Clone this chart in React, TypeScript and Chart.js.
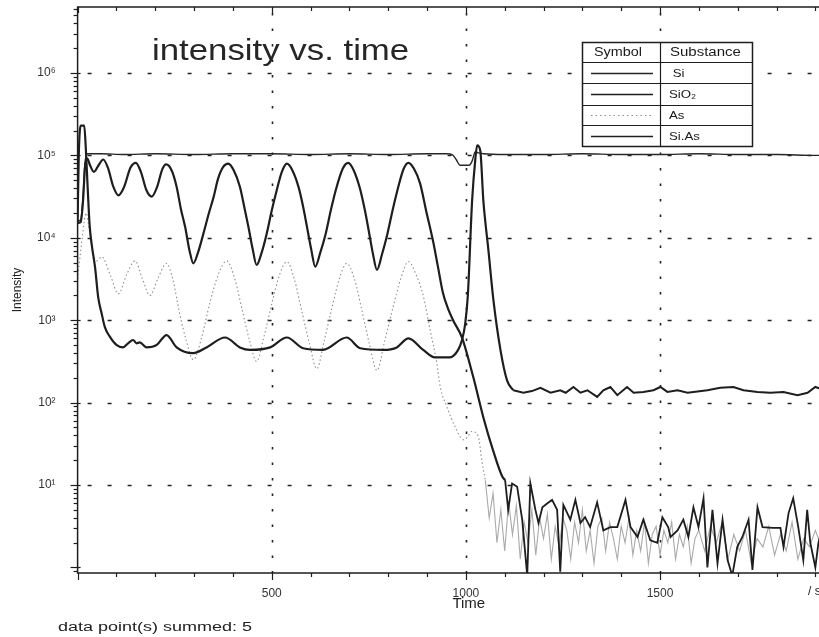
import React, { useEffect, useRef } from 'react';
import { Chart, registerables } from 'chart.js';

Chart.register(...registerables);

// ---- data: time (s) and log10(intensity) ----
const legendNames = [' Si', 'SiO₂', 'As', 'Si.As'];

const siTime = [0, 8, 14, 18, 22, 26, 60, 120, 200, 300, 400, 500, 600, 700, 800, 900, 950, 965, 975, 985, 1008, 1016, 1024, 1032, 1045, 1100, 1200, 1300, 1400, 1500, 1600, 1700, 1800, 1900, 2015];
const siLog = [4.2, 4.22, 4.5, 4.85, 5.0, 5.02, 5.02, 5.01, 5.02, 5.01, 5.02, 5.02, 5.01, 5.02, 5.01, 5.02, 5.02, 5.01, 4.95, 4.88, 4.88, 4.93, 5.04, 5.03, 5.02, 5.01, 5.01, 5.02, 5.01, 5.01, 5.02, 5.01, 5.01, 5.0, 5.0];

const sio2Time = [0, 8, 14, 19, 25, 32, 42, 54, 66, 78, 92, 105, 120, 136, 150, 163, 177, 191, 205, 218, 228, 242, 255, 266, 277, 288, 298, 310, 324, 337, 350, 362, 375, 388, 402, 418, 429, 440, 451, 461, 474, 487, 500, 513, 526, 539, 553, 570, 582, 592, 602, 612, 625, 639, 652, 665, 683, 697, 711, 727, 740, 750, 760, 771, 784, 798, 812, 826, 840, 852, 866, 882, 898, 915, 928, 941, 954, 967, 990, 1019, 1045, 1070, 1094,
  1101, 1109, 1119, 1132, 1145, 1158, 1166, 1179, 1187, 1197, 1210, 1222, 1235, 1243, 1251, 1269, 1282, 1295, 1307, 1320, 1338, 1354, 1372, 1390, 1411, 1424, 1442, 1457, 1475, 1493, 1506, 1521, 1527, 1545, 1560, 1573, 1586, 1599, 1612, 1622, 1635, 1648, 1661, 1674, 1686, 1699, 1712, 1728, 1738, 1751, 1764, 1790, 1810, 1818, 1831, 1843, 1856, 1869, 1879, 1887, 1900, 1908, 1925, 1950, 1975, 2000, 2015];
const sio2Log = [4.18, 4.19, 4.45, 4.85, 4.96, 4.88, 4.8, 4.88, 4.95, 4.85, 4.62, 4.515, 4.62, 4.85, 4.91, 4.8, 4.58, 4.5, 4.62, 4.83, 4.89, 4.82, 4.62, 4.35, 4.13, 3.85, 3.69, 3.82, 4.05, 4.28, 4.49, 4.72, 4.86, 4.9, 4.82, 4.62, 4.38, 4.13, 3.86, 3.67, 3.82, 4.05, 4.33, 4.58, 4.8, 4.9, 4.82, 4.6, 4.35, 4.1, 3.85, 3.65, 3.82, 4.05, 4.33, 4.58, 4.84, 4.91, 4.82, 4.6, 4.33, 4.08, 3.82, 3.61, 3.8, 4.05, 4.35, 4.62, 4.84, 4.91, 4.84, 4.66, 4.32, 3.97, 3.65, 3.33, 3.14, 3.0, 2.79, 2.31, 1.82, 1.42, 1.1,
  1.06, 0.7, 1.02, 0.98, 0.58, -0.1, 1.02, 0.7, 0.54, 0.73, 0.78, 0.82, 0.7, -0.05, 0.76, 0.58, 0.82, 0.54, 0.61, 0.49, 0.79, 0.45, 0.49, 0.49, 0.82, 0.49, 0.37, 0.58, 0.33, 0.3, 0.61, 0.49, 0.37, 0.45, 0.58, 0.37, 0.73, 0.49, 0.84, 0.0, 0.7, 0.05, 0.58, 0.09, -0.1, 0.25, 0.37, 0.58, -0.03, 0.73, 0.49, 0.48, 0.48, 0.25, 0.66, 0.84, 0.49, 0.09, 0.7, 0.3, 0.0, 0.3, 0.6, 0.4, 0.7, 0.3, 0.5];
const sio2NoiseFrom = 1101;

const asTime = [0, 12, 22, 30, 40, 50, 62, 84, 105, 126, 148, 167, 186, 208, 229, 245, 262, 280, 298, 320, 340, 362, 384, 405, 425, 443, 461, 480, 500, 520, 539, 558, 578, 597, 616, 635, 655, 674, 693, 713, 733, 752, 771, 791, 812, 832, 852, 872, 891, 908, 925, 934, 951, 972, 994, 1004, 1015, 1032, 1041, 1050,
  1060, 1070, 1080, 1090, 1100, 1110, 1120, 1130, 1140, 1150, 1160, 1170, 1180, 1190, 1200, 1210, 1220, 1230, 1240, 1250, 1260, 1270, 1280, 1290, 1300, 1310, 1320, 1330, 1340, 1350, 1360, 1370, 1380, 1390, 1400, 1410, 1420, 1430, 1440, 1450, 1460, 1470, 1480, 1490, 1500, 1510, 1520, 1530, 1540, 1550, 1560, 1570, 1580, 1590, 1600, 1615, 1630, 1645, 1660, 1675, 1690, 1705, 1720, 1735, 1750, 1765, 1780, 1795, 1810, 1825, 1840, 1855, 1870, 1885, 1900, 1920, 1940, 1960, 1980, 2000, 2015];
const asLog = [3.5, 4.0, 4.3, 4.1, 3.8, 3.72, 3.77, 3.55, 3.32, 3.55, 3.72, 3.5, 3.3, 3.52, 3.69, 3.5, 3.1, 2.75, 2.52, 2.8, 3.2, 3.55, 3.72, 3.5, 3.1, 2.75, 2.5, 2.8, 3.2, 3.55, 3.71, 3.5, 3.1, 2.72, 2.41, 2.75, 3.15, 3.5, 3.69, 3.5, 3.1, 2.7, 2.39, 2.75, 3.15, 3.5, 3.71, 3.55, 3.28, 2.88, 2.48, 2.19, 1.95, 1.71, 1.55, 1.58, 1.65, 1.59, 1.3, 1.06,
  0.6, 0.9, 0.3, 0.7, 0.2, 0.8, 0.4, 0.75, 0.1, 0.55, 0.3, 0.7, 0.15, 0.6, 0.35, 0.65, 0.1, 0.5, 0.25, 0.6, 0.45, 0.1, 0.55, 0.3, 0.7, 0.2, 0.45, 0.05, 0.5, 0.6, 0.2, 0.55, 0.35, 0.1, 0.5, 0.3, 0.6, 0.15, 0.45, 0.2, 0.55, 0.05, 0.4, 0.5, 0.15, 0.45, 0.3, 0.55, 0.1, 0.4, 0.25, 0.5, 0.05, 0.35, 0.45, 0.2, 0.5, 0.3, 0.55, 0.1, 0.4, 0.2, 0.45, 0.05, 0.35, 0.25, 0.5, 0.15, 0.4, 0.2, 0.55, 0.1, 0.35, 0.25, 0.45, 0.2, 0.4, 0.1, 0.35, 0.2, 0.3];
const asNoiseFrom = 1050;

const siAsTime = [0, 3, 8, 17, 21, 26, 31, 36, 45, 53, 62, 70, 83, 100, 117, 130, 143, 152, 160, 178, 204, 229, 255, 298, 332, 380, 418, 444, 496, 539, 581, 632, 693, 728, 787, 822, 852, 890, 920, 959, 980, 990, 998, 1005, 1016, 1024, 1029, 1037, 1045, 1058, 1071, 1089, 1106, 1122, 1148, 1170, 1192, 1218, 1243, 1257, 1277, 1295, 1313, 1338, 1354, 1372, 1390, 1415, 1432, 1457, 1483, 1501, 1519, 1545, 1571, 1586, 1622, 1655, 1689, 1715, 1751, 1784, 1818, 1854, 1880, 1900, 1930, 1960, 1990, 2015];
const siAsLog = [4.2, 5.0, 5.36, 5.36, 5.1, 4.6, 4.15, 3.93, 3.64, 3.28, 3.08, 2.92, 2.8, 2.7, 2.67, 2.72, 2.76, 2.72, 2.73, 2.67, 2.7, 2.82, 2.67, 2.6, 2.67, 2.79, 2.67, 2.64, 2.67, 2.79, 2.66, 2.64, 2.79, 2.66, 2.64, 2.67, 2.78, 2.64, 2.55, 2.55, 2.64, 2.76, 2.95, 3.3, 4.45, 4.94, 5.12, 5.06, 4.45, 3.85, 3.24, 2.64, 2.27, 2.15, 2.12, 2.14, 2.18, 2.12, 2.15, 2.12, 2.19, 2.12, 2.15, 2.07, 2.15, 2.19, 2.09, 2.19, 2.12, 2.13, 2.15, 2.19, 2.13, 2.15, 2.12, 2.13, 2.15, 2.18, 2.19, 2.15, 2.13, 2.12, 2.13, 2.09, 2.12, 2.19, 2.14, 2.12, 2.15, 2.13];
const siAsNoiseFrom = 1122;

const xTickValues = [500, 1000, 1500];
const yTickValues = [10, 100, 1000, 10000, 100000, 1000000];
const supDigits = ['⁰', '¹', '²', '³', '⁴', '⁵', '⁶', '⁷'];
const titleText = 'intensity vs. time';
const footerText = 'data point(s) summed: 5';
const unitText = '/ s';

const toPoints = (t: number[], l: number[]) => t.map((x, i) => ({ x, y: Math.pow(10, l[i]) }));
const head = (p: { x: number; y: number }[], to: number) => p.filter((q) => q.x <= to);
const tail = (p: { x: number; y: number }[], from: number) => p.filter((q) => q.x >= from);

const INK = '#1e1e1e';
const FONT = '"Liberation Sans", Arial, sans-serif';

function stretchedText(ctx: CanvasRenderingContext2D, text: string, x: number, y: number, sx: number) {
  ctx.save();
  ctx.translate(x, y);
  ctx.scale(sx, 1);
  ctx.fillText(text, 0, 0);
  ctx.restore();
}

const decorPlugin = {
  id: 'decor',
  beforeDatasetsDraw(chart: any) {
    const { ctx, chartArea: a, scales } = chart;
    const x = scales.x, y = scales.y;
    ctx.save();
    ctx.strokeStyle = '#222';
    ctx.lineWidth = 1.4;
    ctx.setLineDash([4, 16]);
    for (const v of yTickValues) {
      const py = Math.round(y.getPixelForValue(v)) + 0.5;
      ctx.beginPath(); ctx.moveTo(a.left + 10, py); ctx.lineTo(a.right, py); ctx.stroke();
    }
    ctx.setLineDash([2.5, 13]);
    ctx.lineWidth = 1.6;
    for (const v of [...xTickValues, 2000]) {
      const px = Math.round(x.getPixelForValue(v)) + 0.5;
      ctx.beginPath(); ctx.moveTo(px, a.top + 6); ctx.lineTo(px, a.bottom); ctx.stroke();
    }
    ctx.restore();
  },
  afterDatasetsDraw(chart: any) {
    const { ctx, chartArea: a, scales } = chart;
    const x = scales.x, y = scales.y;
    ctx.save();
    ctx.strokeStyle = INK;
    ctx.lineWidth = 1.5;
    ctx.setLineDash([]);
    // frame
    ctx.beginPath();
    ctx.moveTo(a.right + 5, a.top); ctx.lineTo(a.left, a.top); ctx.lineTo(a.left, a.bottom); ctx.lineTo(a.right + 5, a.bottom);
    ctx.stroke();
    // x ticks
    ctx.lineWidth = 1.2;
    for (let t = 0; t <= 2000; t += 100) {
      const px = Math.round(x.getPixelForValue(t)) + 0.5;
      const major = t % 500 === 0;
      ctx.beginPath();
      ctx.moveTo(px, a.bottom); ctx.lineTo(px, a.bottom + (major ? 7 : 4));
      ctx.moveTo(px, a.top); ctx.lineTo(px, a.top + (major ? 6 : 4));
      ctx.stroke();
    }
    // y ticks (log minor)
    for (let d = -1; d <= 6; d++) {
      for (let m = 1; m <= 9; m++) {
        const v = m * Math.pow(10, d);
        if (v < y.min || v > y.max) continue;
        const py = Math.round(y.getPixelForValue(v)) + 0.5;
        const major = m === 1;
        ctx.beginPath();
        ctx.moveTo(a.left - (major ? 7 : 4), py); ctx.lineTo(a.left + (major ? 3 : 0), py);
        ctx.stroke();
      }
    }
    // title
    ctx.fillStyle = '#262626';
    ctx.font = `29px ${FONT}`;
    ctx.textBaseline = 'alphabetic';
    ctx.textAlign = 'left';
    stretchedText(ctx, titleText, 152, 60, 1.2);

    // legend table
    const L = 582, R = 752, T = 42, B = 146, C = 660;
    const rows = [T, 62, 83, 105, 125, B];
    ctx.fillStyle = '#fff';
    ctx.fillRect(L, T, R - L, B - T);
    ctx.strokeStyle = INK;
    ctx.lineWidth = 1.5;
    ctx.strokeRect(L + 0.5, T + 0.5, R - L, B - T);
    ctx.lineWidth = 1.2;
    ctx.beginPath();
    for (let i = 1; i < rows.length - 1; i++) { ctx.moveTo(L, rows[i] + 0.5); ctx.lineTo(R, rows[i] + 0.5); }
    ctx.moveTo(C + 0.5, T); ctx.lineTo(C + 0.5, B);
    ctx.stroke();
    ctx.fillStyle = '#1a1a1a';
    ctx.font = `12px ${FONT}`;
    ctx.textBaseline = 'middle';
    ctx.textAlign = 'left';
    stretchedText(ctx, 'Symbol', 594, (rows[0] + rows[1]) / 2 + 1, 1.2);
    stretchedText(ctx, 'Substance', 670, (rows[0] + rows[1]) / 2 + 1, 1.25);
    ctx.font = `11.5px ${FONT}`;
    for (let i = 0; i < 4; i++) {
      const ds = chart.data.datasets[i];
      const cy = (rows[i + 1] + rows[i + 2]) / 2;
      ctx.fillStyle = '#1a1a1a';
      stretchedText(ctx, legendNames[i], 669, cy + 1, 1.15);
      ctx.strokeStyle = ds.borderColor;
      ctx.lineWidth = i === 2 ? 1 : 1.4;
      ctx.setLineDash(i === 2 ? [1.5, 3] : []);
      ctx.beginPath(); ctx.moveTo(591, Math.round(cy) + 0.5); ctx.lineTo(653, Math.round(cy) + 0.5); ctx.stroke();
      ctx.setLineDash([]);
    }

    // footer and unit
    ctx.fillStyle = '#222';
    ctx.font = `12px ${FONT}`;
    ctx.textBaseline = 'alphabetic';
    stretchedText(ctx, footerText, 58, 631, 1.5);
    ctx.font = `12px ${FONT}`;
    ctx.fillText(unitText, 808, 595);
    ctx.restore();
  },
};

export default function App() {
  const ref = useRef<HTMLCanvasElement | null>(null);
  useEffect(() => {
    if (!ref.current) return;
    const sio2 = toPoints(sio2Time, sio2Log);
    const asP = toPoints(asTime, asLog);
    const siAs = toPoints(siAsTime, siAsLog);
    const common = { pointRadius: 0, fill: false };
    const chart = new Chart(ref.current, {
      type: 'line',
      data: {
        datasets: [
          { ...common, label: 'Si', data: toPoints(siTime, siLog), borderColor: '#262626', borderWidth: 1.4, cubicInterpolationMode: 'monotone', order: 3 } as any,
          { ...common, label: 'SiO₂', data: head(sio2, sio2NoiseFrom), borderColor: INK, borderWidth: 2.2, cubicInterpolationMode: 'monotone', order: 1 } as any,
          { ...common, label: 'As', data: head(asP, asNoiseFrom), borderColor: '#8e8e8e', borderWidth: 1.1, borderDash: [1.5, 2.5], cubicInterpolationMode: 'monotone', order: 5 } as any,
          { ...common, label: 'Si.As', data: head(siAs, siAsNoiseFrom), borderColor: INK, borderWidth: 2.2, cubicInterpolationMode: 'monotone', order: 2 } as any,
          { ...common, label: 'SiO₂ tail', data: tail(sio2, sio2NoiseFrom), borderColor: INK, borderWidth: 1.8, tension: 0, order: 1 } as any,
          { ...common, label: 'As tail', data: tail(asP, asNoiseFrom), borderColor: '#aaaaaa', borderWidth: 1.1, tension: 0, order: 6 } as any,
          { ...common, label: 'Si.As tail', data: tail(siAs, siAsNoiseFrom), borderColor: INK, borderWidth: 2.0, tension: 0, order: 2 } as any,
        ],
      },
      options: {
        responsive: false,
        animation: false,
        devicePixelRatio: 1,
        layout: { padding: { top: 7, left: 0, right: 0, bottom: 0 } },
        plugins: { legend: { display: false }, tooltip: { enabled: false }, title: { display: false } },
        scales: {
          x: {
            type: 'linear', min: 0, max: 2015,
            afterBuildTicks: (s: any) => { s.ticks = xTickValues.map((v) => ({ value: v })); },
            afterFit: (s: any) => { s.height = 64; s.paddingLeft = 0; s.paddingRight = 0; },
            grid: { display: false }, border: { display: false },
            ticks: { color: '#333', font: { family: FONT, size: 12 }, padding: 5, maxRotation: 0, callback: (v: any) => String(v) },
            title: { display: true, text: 'Time', color: '#222', font: { family: FONT, size: 15 }, padding: { top: 0, bottom: 24 } },
          },
          y: {
            type: 'logarithmic', min: Math.pow(10, -0.067), max: Math.pow(10, 6.8),
            afterBuildTicks: (s: any) => { s.ticks = yTickValues.map((v) => ({ value: v })); },
            afterFit: (s: any) => { s.width = 77.6; s.paddingTop = 0; s.paddingBottom = 0; },
            grid: { display: false }, border: { display: false },
            ticks: {
              color: '#333', font: { family: FONT, size: 12 }, padding: 14,
              callback: (v: any) => '10' + supDigits[Math.round(Math.log10(Number(v)))],
            },
            title: { display: true, text: 'Intensity', color: '#222', font: { family: FONT, size: 12 }, padding: { top: 10, bottom: 0 } },
          },
        },
      },
      plugins: [decorPlugin],
    } as any);
    return () => chart.destroy();
  }, []);
  return (
    <div style={{ position: 'absolute', left: 0, top: 0, width: 819, height: 637, overflow: 'hidden', background: '#fff' }}>
      <canvas ref={ref} width={860} height={637} style={{ width: 860, height: 637, display: 'block' }} />
    </div>
  );
}
